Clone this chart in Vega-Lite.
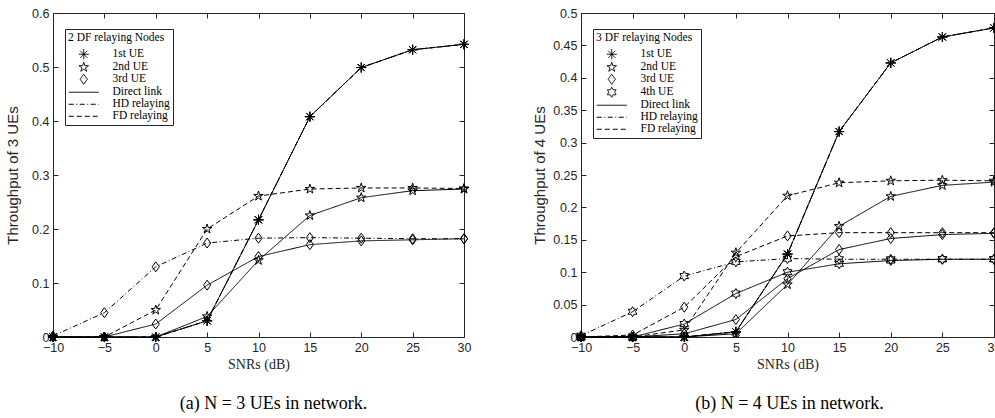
{
  "$schema": "https://vega.github.io/schema/vega-lite/v6.json",
  "background": "white",
  "padding": {"left": 5, "top": 6, "right": 4, "bottom": 5},
  "spacing": 60,
  "resolve": {"scale": {"strokeDash": "independent", "shape": "independent", "x": "independent", "y": "independent"}, "legend": {"strokeDash": "independent", "shape": "independent"}},
  "config": {
    "view": {"stroke": "#262626", "strokeWidth": 1},
    "axis": {"domain": false, "grid": false, "ticks": true, "tickSize": -5, "tickColor": "#262626", "labelFont": "Liberation Sans", "labelFontSize": 12.5, "labelColor": "#262626", "labelPadding": 9, "labelFlush": false, "labelOverlap": false, "titleFont": "Liberation Sans", "titleFontSize": 15, "titleFontWeight": "normal", "titleColor": "#262626"},
    "legend": {"orient": "none", "legendX": 12, "legendY": 16, "strokeColor": "#262626", "fillColor": "white", "padding": 3, "titleFont": "Liberation Serif", "titleFontSize": 11.5, "titleFontWeight": "normal", "titleColor": "black", "titlePadding": 5, "labelFont": "Liberation Serif", "labelFontSize": 11.5, "labelColor": "black", "symbolSize": 100, "symbolOffset": 10, "labelOffset": 23, "symbolStrokeColor": "black", "symbolStrokeWidth": 1, "symbolFillColor": "transparent", "rowPadding": -3}
  },
  "datasets": {
    "a": [
      {"ue": "1st UE", "scheme": "Direct link", "snr": -10, "thr": 0}, {"ue": "1st UE", "scheme": "Direct link", "snr": -5, "thr": 0}, {"ue": "1st UE", "scheme": "Direct link", "snr": 0, "thr": 0}, {"ue": "1st UE", "scheme": "Direct link", "snr": 5, "thr": 0.03}, {"ue": "1st UE", "scheme": "Direct link", "snr": 10, "thr": 0.217}, {"ue": "1st UE", "scheme": "Direct link", "snr": 15, "thr": 0.408}, {"ue": "1st UE", "scheme": "Direct link", "snr": 20, "thr": 0.499}, {"ue": "1st UE", "scheme": "Direct link", "snr": 25, "thr": 0.532}, {"ue": "1st UE", "scheme": "Direct link", "snr": 30, "thr": 0.542},
      {"ue": "1st UE", "scheme": "HD relaying", "snr": -10, "thr": 0}, {"ue": "1st UE", "scheme": "HD relaying", "snr": -5, "thr": 0}, {"ue": "1st UE", "scheme": "HD relaying", "snr": 0, "thr": 0}, {"ue": "1st UE", "scheme": "HD relaying", "snr": 5, "thr": 0.03}, {"ue": "1st UE", "scheme": "HD relaying", "snr": 10, "thr": 0.217}, {"ue": "1st UE", "scheme": "HD relaying", "snr": 15, "thr": 0.408}, {"ue": "1st UE", "scheme": "HD relaying", "snr": 20, "thr": 0.499}, {"ue": "1st UE", "scheme": "HD relaying", "snr": 25, "thr": 0.532}, {"ue": "1st UE", "scheme": "HD relaying", "snr": 30, "thr": 0.542},
      {"ue": "1st UE", "scheme": "FD relaying", "snr": -10, "thr": 0}, {"ue": "1st UE", "scheme": "FD relaying", "snr": -5, "thr": 0}, {"ue": "1st UE", "scheme": "FD relaying", "snr": 0, "thr": 0}, {"ue": "1st UE", "scheme": "FD relaying", "snr": 5, "thr": 0.03}, {"ue": "1st UE", "scheme": "FD relaying", "snr": 10, "thr": 0.217}, {"ue": "1st UE", "scheme": "FD relaying", "snr": 15, "thr": 0.408}, {"ue": "1st UE", "scheme": "FD relaying", "snr": 20, "thr": 0.499}, {"ue": "1st UE", "scheme": "FD relaying", "snr": 25, "thr": 0.532}, {"ue": "1st UE", "scheme": "FD relaying", "snr": 30, "thr": 0.542},
      {"ue": "2nd UE", "scheme": "Direct link", "snr": -10, "thr": 0}, {"ue": "2nd UE", "scheme": "Direct link", "snr": -5, "thr": 0}, {"ue": "2nd UE", "scheme": "Direct link", "snr": 0, "thr": 0}, {"ue": "2nd UE", "scheme": "Direct link", "snr": 5, "thr": 0.038}, {"ue": "2nd UE", "scheme": "Direct link", "snr": 10, "thr": 0.142}, {"ue": "2nd UE", "scheme": "Direct link", "snr": 15, "thr": 0.225}, {"ue": "2nd UE", "scheme": "Direct link", "snr": 20, "thr": 0.258}, {"ue": "2nd UE", "scheme": "Direct link", "snr": 25, "thr": 0.271}, {"ue": "2nd UE", "scheme": "Direct link", "snr": 30, "thr": 0.274},
      {"ue": "2nd UE", "scheme": "FD relaying", "snr": -10, "thr": 0}, {"ue": "2nd UE", "scheme": "FD relaying", "snr": -5, "thr": 0}, {"ue": "2nd UE", "scheme": "FD relaying", "snr": 0, "thr": 0.05}, {"ue": "2nd UE", "scheme": "FD relaying", "snr": 5, "thr": 0.2}, {"ue": "2nd UE", "scheme": "FD relaying", "snr": 10, "thr": 0.261}, {"ue": "2nd UE", "scheme": "FD relaying", "snr": 15, "thr": 0.274}, {"ue": "2nd UE", "scheme": "FD relaying", "snr": 20, "thr": 0.276}, {"ue": "2nd UE", "scheme": "FD relaying", "snr": 25, "thr": 0.276}, {"ue": "2nd UE", "scheme": "FD relaying", "snr": 30, "thr": 0.275},
      {"ue": "3rd UE", "scheme": "Direct link", "snr": -10, "thr": 0}, {"ue": "3rd UE", "scheme": "Direct link", "snr": -5, "thr": 0}, {"ue": "3rd UE", "scheme": "Direct link", "snr": 0, "thr": 0.024}, {"ue": "3rd UE", "scheme": "Direct link", "snr": 5, "thr": 0.096}, {"ue": "3rd UE", "scheme": "Direct link", "snr": 10, "thr": 0.149}, {"ue": "3rd UE", "scheme": "Direct link", "snr": 15, "thr": 0.171}, {"ue": "3rd UE", "scheme": "Direct link", "snr": 20, "thr": 0.178}, {"ue": "3rd UE", "scheme": "Direct link", "snr": 25, "thr": 0.18}, {"ue": "3rd UE", "scheme": "Direct link", "snr": 30, "thr": 0.182},
      {"ue": "3rd UE", "scheme": "HD relaying", "snr": -10, "thr": 0.002}, {"ue": "3rd UE", "scheme": "HD relaying", "snr": -5, "thr": 0.045}, {"ue": "3rd UE", "scheme": "HD relaying", "snr": 0, "thr": 0.13}, {"ue": "3rd UE", "scheme": "HD relaying", "snr": 5, "thr": 0.174}, {"ue": "3rd UE", "scheme": "HD relaying", "snr": 10, "thr": 0.183}, {"ue": "3rd UE", "scheme": "HD relaying", "snr": 15, "thr": 0.184}, {"ue": "3rd UE", "scheme": "HD relaying", "snr": 20, "thr": 0.183}, {"ue": "3rd UE", "scheme": "HD relaying", "snr": 25, "thr": 0.182}, {"ue": "3rd UE", "scheme": "HD relaying", "snr": 30, "thr": 0.182}
    ],
    "b": [
      {"ue": "1st UE", "scheme": "Direct link", "snr": -10, "thr": 0}, {"ue": "1st UE", "scheme": "Direct link", "snr": -5, "thr": 0}, {"ue": "1st UE", "scheme": "Direct link", "snr": 0, "thr": 0}, {"ue": "1st UE", "scheme": "Direct link", "snr": 5, "thr": 0.008}, {"ue": "1st UE", "scheme": "Direct link", "snr": 10, "thr": 0.128}, {"ue": "1st UE", "scheme": "Direct link", "snr": 15, "thr": 0.317}, {"ue": "1st UE", "scheme": "Direct link", "snr": 20, "thr": 0.423}, {"ue": "1st UE", "scheme": "Direct link", "snr": 25, "thr": 0.463}, {"ue": "1st UE", "scheme": "Direct link", "snr": 30, "thr": 0.477},
      {"ue": "1st UE", "scheme": "HD relaying", "snr": -10, "thr": 0}, {"ue": "1st UE", "scheme": "HD relaying", "snr": -5, "thr": 0}, {"ue": "1st UE", "scheme": "HD relaying", "snr": 0, "thr": 0}, {"ue": "1st UE", "scheme": "HD relaying", "snr": 5, "thr": 0.008}, {"ue": "1st UE", "scheme": "HD relaying", "snr": 10, "thr": 0.128}, {"ue": "1st UE", "scheme": "HD relaying", "snr": 15, "thr": 0.317}, {"ue": "1st UE", "scheme": "HD relaying", "snr": 20, "thr": 0.423}, {"ue": "1st UE", "scheme": "HD relaying", "snr": 25, "thr": 0.463}, {"ue": "1st UE", "scheme": "HD relaying", "snr": 30, "thr": 0.477},
      {"ue": "1st UE", "scheme": "FD relaying", "snr": -10, "thr": 0}, {"ue": "1st UE", "scheme": "FD relaying", "snr": -5, "thr": 0}, {"ue": "1st UE", "scheme": "FD relaying", "snr": 0, "thr": 0}, {"ue": "1st UE", "scheme": "FD relaying", "snr": 5, "thr": 0.008}, {"ue": "1st UE", "scheme": "FD relaying", "snr": 10, "thr": 0.128}, {"ue": "1st UE", "scheme": "FD relaying", "snr": 15, "thr": 0.317}, {"ue": "1st UE", "scheme": "FD relaying", "snr": 20, "thr": 0.423}, {"ue": "1st UE", "scheme": "FD relaying", "snr": 25, "thr": 0.463}, {"ue": "1st UE", "scheme": "FD relaying", "snr": 30, "thr": 0.477},
      {"ue": "2nd UE", "scheme": "Direct link", "snr": -10, "thr": 0}, {"ue": "2nd UE", "scheme": "Direct link", "snr": -5, "thr": 0}, {"ue": "2nd UE", "scheme": "Direct link", "snr": 0, "thr": 0}, {"ue": "2nd UE", "scheme": "Direct link", "snr": 5, "thr": 0.005}, {"ue": "2nd UE", "scheme": "Direct link", "snr": 10, "thr": 0.081}, {"ue": "2nd UE", "scheme": "Direct link", "snr": 15, "thr": 0.171}, {"ue": "2nd UE", "scheme": "Direct link", "snr": 20, "thr": 0.217}, {"ue": "2nd UE", "scheme": "Direct link", "snr": 25, "thr": 0.234}, {"ue": "2nd UE", "scheme": "Direct link", "snr": 30, "thr": 0.239},
      {"ue": "2nd UE", "scheme": "FD relaying", "snr": -10, "thr": 0}, {"ue": "2nd UE", "scheme": "FD relaying", "snr": -5, "thr": 0}, {"ue": "2nd UE", "scheme": "FD relaying", "snr": 0, "thr": 0.011}, {"ue": "2nd UE", "scheme": "FD relaying", "snr": 5, "thr": 0.13}, {"ue": "2nd UE", "scheme": "FD relaying", "snr": 10, "thr": 0.218}, {"ue": "2nd UE", "scheme": "FD relaying", "snr": 15, "thr": 0.238}, {"ue": "2nd UE", "scheme": "FD relaying", "snr": 20, "thr": 0.241}, {"ue": "2nd UE", "scheme": "FD relaying", "snr": 25, "thr": 0.242}, {"ue": "2nd UE", "scheme": "FD relaying", "snr": 30, "thr": 0.241},
      {"ue": "3rd UE", "scheme": "Direct link", "snr": -10, "thr": 0}, {"ue": "3rd UE", "scheme": "Direct link", "snr": -5, "thr": 0}, {"ue": "3rd UE", "scheme": "Direct link", "snr": 0, "thr": 0.005}, {"ue": "3rd UE", "scheme": "Direct link", "snr": 5, "thr": 0.027}, {"ue": "3rd UE", "scheme": "Direct link", "snr": 10, "thr": 0.09}, {"ue": "3rd UE", "scheme": "Direct link", "snr": 15, "thr": 0.135}, {"ue": "3rd UE", "scheme": "Direct link", "snr": 20, "thr": 0.152}, {"ue": "3rd UE", "scheme": "Direct link", "snr": 25, "thr": 0.158}, {"ue": "3rd UE", "scheme": "Direct link", "snr": 30, "thr": 0.16},
      {"ue": "3rd UE", "scheme": "FD relaying", "snr": -10, "thr": 0}, {"ue": "3rd UE", "scheme": "FD relaying", "snr": -5, "thr": 0.003}, {"ue": "3rd UE", "scheme": "FD relaying", "snr": 0, "thr": 0.046}, {"ue": "3rd UE", "scheme": "FD relaying", "snr": 5, "thr": 0.124}, {"ue": "3rd UE", "scheme": "FD relaying", "snr": 10, "thr": 0.156}, {"ue": "3rd UE", "scheme": "FD relaying", "snr": 15, "thr": 0.161}, {"ue": "3rd UE", "scheme": "FD relaying", "snr": 20, "thr": 0.161}, {"ue": "3rd UE", "scheme": "FD relaying", "snr": 25, "thr": 0.161}, {"ue": "3rd UE", "scheme": "FD relaying", "snr": 30, "thr": 0.161},
      {"ue": "4th UE", "scheme": "Direct link", "snr": -10, "thr": 0}, {"ue": "4th UE", "scheme": "Direct link", "snr": -5, "thr": 0}, {"ue": "4th UE", "scheme": "Direct link", "snr": 0, "thr": 0.02}, {"ue": "4th UE", "scheme": "Direct link", "snr": 5, "thr": 0.067}, {"ue": "4th UE", "scheme": "Direct link", "snr": 10, "thr": 0.1}, {"ue": "4th UE", "scheme": "Direct link", "snr": 15, "thr": 0.113}, {"ue": "4th UE", "scheme": "Direct link", "snr": 20, "thr": 0.118}, {"ue": "4th UE", "scheme": "Direct link", "snr": 25, "thr": 0.12}, {"ue": "4th UE", "scheme": "Direct link", "snr": 30, "thr": 0.12},
      {"ue": "4th UE", "scheme": "HD relaying", "snr": -10, "thr": 0.002}, {"ue": "4th UE", "scheme": "HD relaying", "snr": -5, "thr": 0.039}, {"ue": "4th UE", "scheme": "HD relaying", "snr": 0, "thr": 0.094}, {"ue": "4th UE", "scheme": "HD relaying", "snr": 5, "thr": 0.116}, {"ue": "4th UE", "scheme": "HD relaying", "snr": 10, "thr": 0.121}, {"ue": "4th UE", "scheme": "HD relaying", "snr": 15, "thr": 0.12}, {"ue": "4th UE", "scheme": "HD relaying", "snr": 20, "thr": 0.12}, {"ue": "4th UE", "scheme": "HD relaying", "snr": 25, "thr": 0.12}, {"ue": "4th UE", "scheme": "HD relaying", "snr": 30, "thr": 0.12}
    ]
  },
  "hconcat": [
    {
      "width": 411, "height": 324,
      "data": {"name": "a"},
      "title": {"text": "(a) N = 3 UEs in network.", "orient": "bottom", "anchor": "middle", "font": "Liberation Serif", "fontSize": 18, "fontWeight": "normal", "color": "black", "offset": 23, "dx": 15},
      "layer": [
        {
          "mark": {"type": "line", "color": "black", "strokeWidth": 1},
          "encoding": {
            "x": {"field": "snr", "type": "quantitative", "scale": {"domain": [-10, 30], "nice": false, "zero": false}, "axis": {"values": [-10, -5, 0, 5, 10, 15, 20, 25, 30], "title": "SNRs (dB)", "titleFont": "Liberation Serif", "titleFontSize": 14, "titlePadding": 4}},
            "y": {"field": "thr", "type": "quantitative", "scale": {"domain": [0, 0.6], "nice": false}, "axis": {"values": [0, 0.1, 0.2, 0.3, 0.4, 0.5, 0.6], "format": "~g", "title": "Throughput of 3 UEs", "titlePadding": 11}},
            "detail": {"field": "ue", "type": "nominal"},
            "strokeDash": {"field": "scheme", "type": "nominal",
              "scale": {"domain": ["1st UE", "2nd UE", "3rd UE", "Direct link", "HD relaying", "FD relaying"], "range": [[1, 0], [1, 0], [1, 0], [1, 0], [5, 2.5, 1, 2.5], [5, 3]]},
              "legend": {"title": "2 DF relaying Nodes",
                "encode": {"symbols": {"update": {"shape": {"signal": "datum.value == '1st UE' ? 'M0,-1L0,1M-1,0L1,0M-0.7,-0.7L0.7,0.7M-0.7,0.7L0.7,-0.7' : datum.value == '2nd UE' ? 'M0,-1L0.2245,-0.309L0.951,-0.309L0.363,0.118L0.588,0.809L0,0.382L-0.588,0.809L-0.363,0.118L-0.951,-0.309L-0.2245,-0.309Z' : datum.value == '3rd UE' ? 'M0,-1L0.72,0L0,1L-0.72,0Z' : 'M-3,0L3,0'"}, "fill": {"value": "transparent"}}}}}}
          }
        },
        {
          "mark": {"type": "point", "filled": false, "color": "black", "strokeWidth": 1, "size": 100, "opacity": 1},
          "encoding": {
            "x": {"field": "snr", "type": "quantitative", "axis": {"orient": "top", "labels": false, "title": null, "values": [-10, -5, 0, 5, 10, 15, 20, 25, 30]}},
            "y": {"field": "thr", "type": "quantitative", "axis": {"orient": "right", "labels": false, "title": null, "values": [0, 0.1, 0.2, 0.3, 0.4, 0.5, 0.6]}},
            "shape": {"field": "ue", "type": "nominal", "legend": null,
              "scale": {"domain": ["1st UE", "2nd UE", "3rd UE"], "range": ["M0,-1L0,1M-1,0L1,0M-0.7,-0.7L0.7,0.7M-0.7,0.7L0.7,-0.7", "M0,-1L0.2245,-0.309L0.951,-0.309L0.363,0.118L0.588,0.809L0,0.382L-0.588,0.809L-0.363,0.118L-0.951,-0.309L-0.2245,-0.309Z", "M0,-1L0.72,0L0,1L-0.72,0Z"]}}
          }
        }
      ],
      "resolve": {"axis": {"x": "independent", "y": "independent"}}
    },
    {
      "width": 413, "height": 324,
      "data": {"name": "b"},
      "title": {"text": "(b) N = 4 UEs in network.", "orient": "bottom", "anchor": "middle", "font": "Liberation Serif", "fontSize": 18, "fontWeight": "normal", "color": "black", "offset": 23, "dx": 2},
      "layer": [
        {
          "mark": {"type": "line", "color": "black", "strokeWidth": 1},
          "encoding": {
            "x": {"field": "snr", "type": "quantitative", "scale": {"domain": [-10, 30], "nice": false, "zero": false}, "axis": {"values": [-10, -5, 0, 5, 10, 15, 20, 25, 30], "title": "SNRs (dB)", "titleFont": "Liberation Serif", "titleFontSize": 14, "titlePadding": 4}},
            "y": {"field": "thr", "type": "quantitative", "scale": {"domain": [0, 0.5], "nice": false}, "axis": {"values": [0, 0.05, 0.1, 0.15, 0.2, 0.25, 0.3, 0.35, 0.4, 0.45, 0.5], "format": "~g", "title": "Throughput of 4 UEs", "titlePadding": 5}},
            "detail": {"field": "ue", "type": "nominal"},
            "strokeDash": {"field": "scheme", "type": "nominal",
              "scale": {"domain": ["1st UE", "2nd UE", "3rd UE", "4th UE", "Direct link", "HD relaying", "FD relaying"], "range": [[1, 0], [1, 0], [1, 0], [1, 0], [1, 0], [5, 2.5, 1, 2.5], [5, 3]]},
              "legend": {"title": "3 DF relaying Nodes",
                "encode": {"symbols": {"update": {"shape": {"signal": "datum.value == '1st UE' ? 'M0,-1L0,1M-1,0L1,0M-0.7,-0.7L0.7,0.7M-0.7,0.7L0.7,-0.7' : datum.value == '2nd UE' ? 'M0,-1L0.2245,-0.309L0.951,-0.309L0.363,0.118L0.588,0.809L0,0.382L-0.588,0.809L-0.363,0.118L-0.951,-0.309L-0.2245,-0.309Z' : datum.value == '3rd UE' ? 'M0,-1L0.72,0L0,1L-0.72,0Z' : datum.value == '4th UE' ? 'M0,-1L0.2887,-0.5L0.866,-0.5L0.577,0L0.866,0.5L0.2887,0.5L0,1L-0.2887,0.5L-0.866,0.5L-0.577,0L-0.866,-0.5L-0.2887,-0.5Z' : 'M-3,0L3,0'"}, "fill": {"value": "transparent"}}}}}}
          }
        },
        {
          "mark": {"type": "point", "filled": false, "color": "black", "strokeWidth": 1, "size": 100, "opacity": 1},
          "encoding": {
            "x": {"field": "snr", "type": "quantitative", "axis": {"orient": "top", "labels": false, "title": null, "values": [-10, -5, 0, 5, 10, 15, 20, 25, 30]}},
            "y": {"field": "thr", "type": "quantitative", "axis": {"orient": "right", "labels": false, "title": null, "values": [0, 0.05, 0.1, 0.15, 0.2, 0.25, 0.3, 0.35, 0.4, 0.45, 0.5]}},
            "shape": {"field": "ue", "type": "nominal", "legend": null,
              "scale": {"domain": ["1st UE", "2nd UE", "3rd UE", "4th UE"], "range": ["M0,-1L0,1M-1,0L1,0M-0.7,-0.7L0.7,0.7M-0.7,0.7L0.7,-0.7", "M0,-1L0.2245,-0.309L0.951,-0.309L0.363,0.118L0.588,0.809L0,0.382L-0.588,0.809L-0.363,0.118L-0.951,-0.309L-0.2245,-0.309Z", "M0,-1L0.72,0L0,1L-0.72,0Z", "M0,-1L0.2887,-0.5L0.866,-0.5L0.577,0L0.866,0.5L0.2887,0.5L0,1L-0.2887,0.5L-0.866,0.5L-0.577,0L-0.866,-0.5L-0.2887,-0.5Z"]}}
          }
        }
      ],
      "resolve": {"axis": {"x": "independent", "y": "independent"}}
    }
  ]
}
